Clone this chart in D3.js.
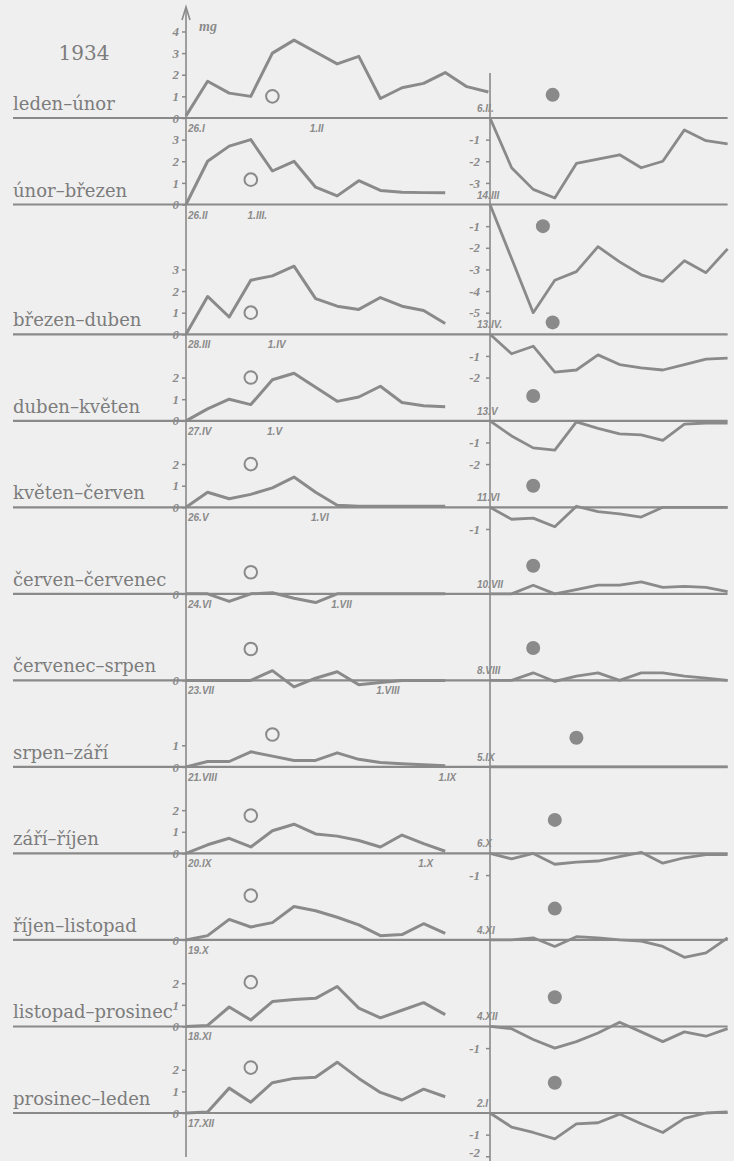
<!DOCTYPE html>
<html>
<head>
<meta charset="utf-8">
<script src="https://cdn.jsdelivr.net/npm/d3@7"></script>
<style>
  body { margin: 0; background: #efefef; }
  svg { display: block; }
</style>
</head>
<body>
<svg id="chart"></svg>
<script>
// months (pairs of consecutive months, 1934)
const rowLabels = ["leden–únor", "únor–březen", "březen–duben", "duben–květen", "květen–červen",
  "červen–červenec", "červenec–srpen", "srpen–září", "září–říjen", "říjen–listopad",
  "listopad–prosinec", "prosinec–leden"];

// date written at the start of the left (full moon) part
const leftStart = ["26.I", "26.II", "28.III", "27.IV", "26.V", "24.VI", "23.VII", "21.VIII", "20.IX", "19.X", "18.XI", "17.XII"];
// first of month label in the left part: [text, day index]
const leftMonth = [["1.II", 6.05], ["1.III.", 3.3], ["1.IV", 4.2], ["1.V", 4.1], ["1.VI", 6.2], ["1.VII", 7.2],
  ["1.VIII", 9.35], ["1.IX", 12.1], ["1.X", 11.1], null, null, null];
// date written at the start of the right (new moon) part
const rightStart = ["6.II.", "14.III", "13.IV.", "13.V", "11.VI", "10.VII", "8.VIII", "5.IX", "6.X", "4.XI", "4.XII", "2.I"];

// daily values in mg, left part (after full moon)
const leftValues = [
  [0.1, 1.7, 1.15, 1.0, 3.0, 3.6, 3.05, 2.5, 2.85, 0.9, 1.4, 1.6, 2.1, 1.45, 1.2],
  [0, 2.0, 2.7, 3.0, 1.55, 2.0, 0.8, 0.4, 1.1, 0.65, 0.57, 0.55, 0.55],
  [0, 1.75, 0.8, 2.5, 2.7, 3.15, 1.65, 1.3, 1.15, 1.7, 1.3, 1.1, 0.5],
  [0, 0.55, 1.0, 0.75, 1.9, 2.2, 1.55, 0.9, 1.1, 1.6, 0.85, 0.7, 0.65],
  [0, 0.7, 0.4, 0.6, 0.9, 1.4, 0.7, 0.1, 0.05, 0.05, 0.05, 0.05, 0.05],
  [0, 0, -0.35, 0, 0.05, -0.2, -0.4, 0, 0, 0, 0, 0, 0],
  [0, 0, 0, 0, 0.45, -0.3, 0.1, 0.4, -0.2, -0.1, 0, 0, 0],
  [0, 0.25, 0.25, 0.7, 0.5, 0.3, 0.3, 0.65, 0.35, 0.2, 0.15, 0.1, 0.05],
  [0, 0.4, 0.7, 0.3, 1.05, 1.35, 0.9, 0.8, 0.6, 0.3, 0.85, 0.45, 0.1],
  [0, 0.2, 0.95, 0.6, 0.8, 1.55, 1.35, 1.05, 0.7, 0.2, 0.25, 0.75, 0.3],
  [0, 0.05, 0.9, 0.3, 1.15, 1.25, 1.3, 1.85, 0.85, 0.4, 0.75, 1.1, 0.55],
  [0, 0.05, 1.15, 0.5, 1.4, 1.6, 1.65, 2.35, 1.6, 0.95, 0.6, 1.1, 0.75]
];

// daily values in mg, right part (after new moon)
const rightValues = [
  [0, -2.3, -3.3, -3.7, -2.1, -1.9, -1.7, -2.3, -2.0, -0.55, -1.05, -1.2],
  [0, -2.5, -5.0, -3.5, -3.1, -1.95, -2.65, -3.25, -3.55, -2.6, -3.15, -2.05],
  [0, -0.9, -0.55, -1.75, -1.65, -0.95, -1.4, -1.55, -1.65, -1.4, -1.15, -1.1],
  [0, -0.7, -1.25, -1.35, -0.05, -0.35, -0.6, -0.65, -0.9, -0.15, -0.1, -0.1],
  [0, -0.55, -0.5, -0.9, 0.05, -0.2, -0.3, -0.45, 0, 0, 0, 0],
  [0, 0, 0.4, 0, 0.2, 0.4, 0.4, 0.55, 0.3, 0.35, 0.3, 0.1],
  [0, 0, 0.35, -0.05, 0.2, 0.35, 0, 0.35, 0.35, 0.2, 0.1, 0],
  [0, 0, 0, 0, 0, 0, 0, 0, 0, 0, 0, 0],
  [0, -0.25, 0, -0.5, -0.4, -0.35, -0.15, 0.05, -0.45, -0.2, -0.05, -0.05],
  [0, 0, 0.1, -0.3, 0.15, 0.1, 0, -0.05, -0.3, -0.8, -0.6, 0.1],
  [0, -0.1, -0.6, -1.0, -0.7, -0.3, 0.2, -0.25, -0.7, -0.25, -0.45, -0.1],
  [0, -0.65, -0.9, -1.2, -0.5, -0.45, -0.05, -0.5, -0.9, -0.25, 0, 0.05]
];

const leftTicks = [[0, 1, 2, 3, 4], [0, 1, 2, 3], [0, 1, 2, 3], [0, 1, 2], [0, 1, 2], [0], [0], [0, 1], [0, 1, 2], [0], [0, 1, 2], [0, 1, 2]];
const rightTicks = [[-1, -2, -3], [-1, -2, -3, -4, -5], [-1, -2], [-1, -2], [-1], [], [], [], [-1], [], [-1], [-1, -2]];

// moon symbols: [day index, mg]
const fullMoon = [[4, 1.0], [3, 1.15], [3, 1.0], [3, 2.0], [3, 2.0], [3, 1.0], [3, 1.45], [4, 1.5], [3, 1.75], [3, 2.05], [3, 2.05], [3, 2.1]];
const newMoon = [[2.9, 1.07], [2.45, -1.0], [2.9, 0.55], [2, 1.15], [2, 1.0], [2, 1.3], [2, 1.5], [4, 1.35], [3, 1.55], [3, 1.45], [3, 1.35], [3, 1.4]];

const width = 734, height = 1161;
const ink = "#8a8a8a", textInk = "#7c7c7c";

const svg = d3.select("#chart")
  .attr("width", width)
  .attr("height", height)
  .attr("viewBox", [0, 0, width, height]);

svg.append("rect").attr("width", width).attr("height", height).attr("fill", "#efefef");

// row offsets (in mg units) - a row gets more room when the curve above it goes deep
let offsets = [0];
for (let i = 0; i < rowLabels.length - 1; i++) {
  offsets.push(offsets[i] + Math.max(4, Math.floor(-d3.min(rightValues[i])) + 1));
}
const yStack = d3.scaleLinear().domain([0, offsets[offsets.length - 1]]).range([118, 1113]);
const unit = yStack(1) - yStack(0);

const xL = d3.scaleLinear().domain([0, 14]).range([186, 488.4]);
const xR = d3.scaleLinear().domain([0, 11]).range([490, 727.6]);

// vertical axes
svg.append("line").attr("x1", xL(0)).attr("x2", xL(0)).attr("y1", 8).attr("y2", 1157)
  .attr("stroke", ink).attr("stroke-width", 1.6);
svg.append("path").attr("d", `M${xL(0) - 4},20 L${xL(0)},7 L${xL(0) + 4},20`)
  .attr("fill", "none").attr("stroke", ink).attr("stroke-width", 1.6);
svg.append("line").attr("x1", xR(0)).attr("x2", xR(0)).attr("y1", 73).attr("y2", height)
  .attr("stroke", ink).attr("stroke-width", 1.6);

svg.append("text").attr("x", 84).attr("y", 60).attr("text-anchor", "middle")
  .style("font-family", "DejaVu Serif, serif").style("font-size", "20px").attr("fill", textInk)
  .text("1934");
svg.append("text").attr("x", 199).attr("y", 31)
  .style("font-family", "Liberation Serif, serif").style("font-style", "italic").style("font-weight", "bold")
  .style("font-size", "14px").attr("fill", ink).text("mg");

const tickStyle = ax => {
  ax.select(".domain").remove();
  ax.selectAll(".tick line").attr("stroke", ink).attr("stroke-width", 1.5);
  ax.selectAll(".tick text")
    .style("font-family", "Liberation Serif, serif").style("font-style", "italic").style("font-weight", "bold")
    .style("font-size", "13px").attr("fill", ink);
};

rowLabels.forEach((label, i) => {
  const base = yStack(offsets[i]);
  const y = d3.scaleLinear().domain([0, 1]).range([base, base - unit]);
  const g = svg.append("g");

  // zero line across the whole row
  g.append("line").attr("x1", 13).attr("x2", xR(11)).attr("y1", base).attr("y2", base)
    .attr("stroke", ink).attr("stroke-width", 2.2);

  g.append("text").attr("x", 13).attr("y", base - 8)
    .style("font-family", "DejaVu Serif, serif").style("font-size", "18px").attr("fill", textInk)
    .text(label);

  // axes with tick labels
  g.append("g").attr("transform", `translate(${xL(0)},0)`)
    .call(d3.axisLeft(y).tickValues(leftTicks[i]).tickSize(4).tickPadding(3).tickFormat(d => String(d)))
    .call(tickStyle);
  if (rightTicks[i].length) {
    g.append("g").attr("transform", `translate(${xR(0)},0)`)
      .call(d3.axisLeft(y).tickValues(rightTicks[i]).tickSize(4).tickPadding(6).tickFormat(d => String(d)))
      .call(tickStyle)
      .selectAll(".tick text").filter(d => y(d) > height - 8).attr("dy", "0em"); // keep last label inside
  }

  // curves
  const lineL = d3.line().x((d, j) => xL(j)).y(d => y(d));
  const lineR = d3.line().x((d, j) => xR(j)).y(d => y(d));
  g.append("path").datum(leftValues[i]).attr("d", lineL)
    .attr("fill", "none").attr("stroke", ink).attr("stroke-width", 3).attr("stroke-linejoin", "round");
  g.append("path").datum(rightValues[i]).attr("d", lineR)
    .attr("fill", "none").attr("stroke", ink).attr("stroke-width", 2.8).attr("stroke-linejoin", "round");

  // moon symbols
  g.append("circle").attr("cx", xL(fullMoon[i][0])).attr("cy", y(fullMoon[i][1])).attr("r", 6.3)
    .attr("fill", "none").attr("stroke", ink).attr("stroke-width", 2);
  g.append("circle").attr("cx", xR(newMoon[i][0])).attr("cy", y(newMoon[i][1])).attr("r", 7)
    .attr("fill", ink);

  // dates
  const dateStyle = sel => sel.style("font-family", "Liberation Sans, sans-serif").style("font-style", "italic")
    .style("font-weight", "bold").style("font-size", "10px").attr("fill", ink);
  g.append("text").attr("x", xL(0) + 2).attr("y", base + 14).call(dateStyle).text(leftStart[i]);
  if (leftMonth[i]) {
    g.append("text").attr("x", xL(leftMonth[i][1])).attr("y", base + 14).attr("text-anchor", "middle")
      .call(dateStyle).text(leftMonth[i][0]);
  }
  g.append("text").attr("x", xR(0) - 13).attr("y", base - 6).call(dateStyle).text(rightStart[i]);
});
</script>
</body>
</html>
